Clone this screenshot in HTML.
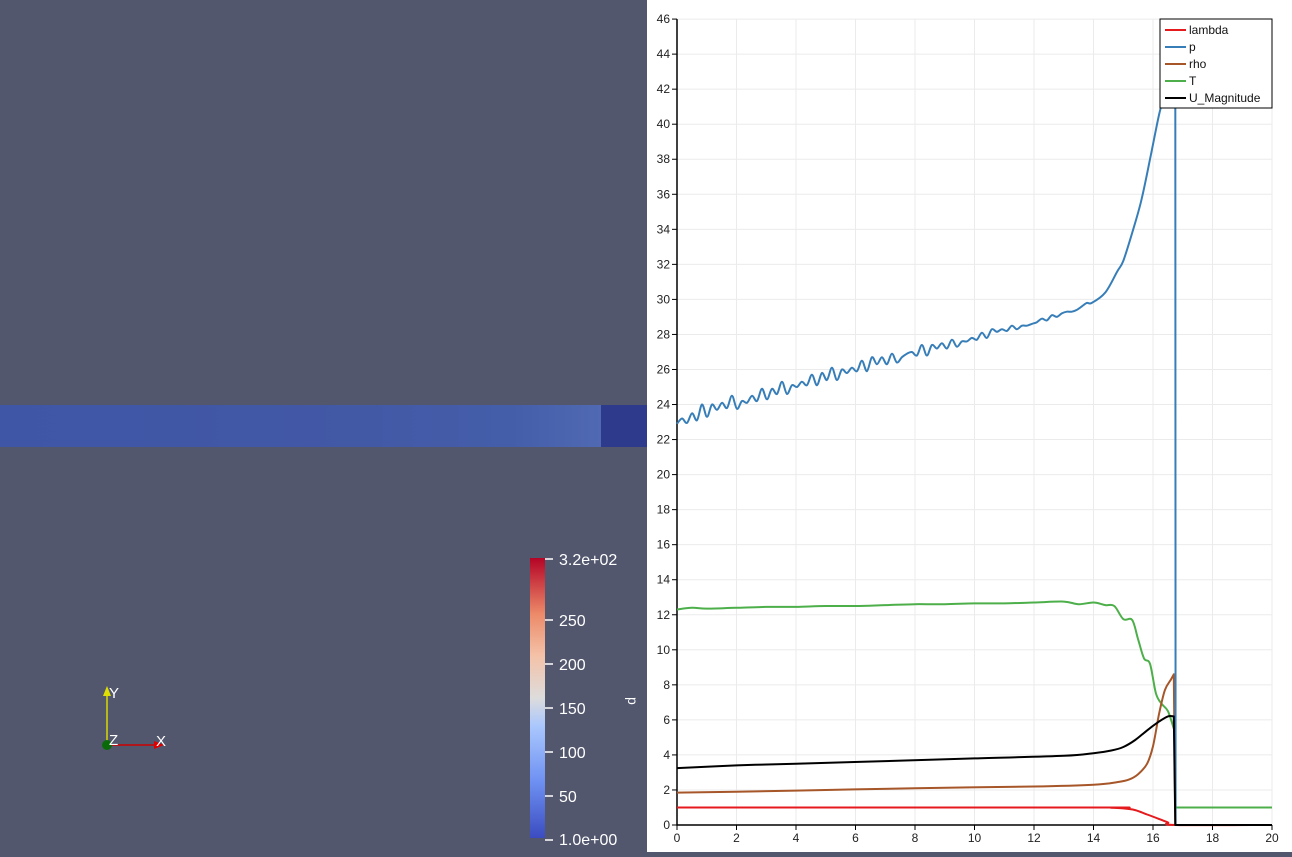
<!DOCTYPE html>
<html><head><meta charset="utf-8"><style>
html,body{margin:0;padding:0;width:1292px;height:852px;overflow:hidden;background:#52576e;font-family:"Liberation Sans",sans-serif}
#left{position:absolute;left:0;top:0;width:647px;height:852px;background:#52576e}
#right{position:absolute;left:647px;top:0;width:645px;height:852px;background:#fff}
</style></head><body>
<div id="left">
<svg width="647" height="852">
<defs>
<linearGradient id="strip" x1="0" x2="1" y1="0" y2="0"><stop offset="0" stop-color="#3f55a6"/><stop offset="0.6" stop-color="#4259a6"/><stop offset="0.85" stop-color="#455eaa"/><stop offset="1" stop-color="#5069b2"/></linearGradient>
<linearGradient id="cmap" x1="0" x2="0" y1="1" y2="0"><stop offset="0" stop-color="#3b4cc0"/><stop offset="0.2" stop-color="#6e90f2"/><stop offset="0.4" stop-color="#aac7fd"/><stop offset="0.5" stop-color="#dddcdc"/><stop offset="0.65" stop-color="#f4c2a8"/><stop offset="0.8" stop-color="#ec8a69"/><stop offset="1" stop-color="#b40426"/></linearGradient>
</defs>
<rect x="0" y="405" width="601" height="42" fill="url(#strip)"/>
<rect x="601" y="405" width="46" height="42" fill="#2e3a8c"/>
<g fill="#fff" font-size="16">
<rect x="530" y="558" width="15" height="280" fill="url(#cmap)"/>
<g stroke="#fff" stroke-width="1.5"><line x1="545" x2="553" y1="559" y2="559"/><line x1="545" x2="553" y1="620" y2="620"/><line x1="545" x2="553" y1="664" y2="664"/><line x1="545" x2="553" y1="708" y2="708"/><line x1="545" x2="553" y1="752" y2="752"/><line x1="545" x2="553" y1="796" y2="796"/><line x1="545" x2="553" y1="840" y2="840"/></g>
<text x="559" y="565">3.2e+02</text><text x="559" y="626">250</text><text x="559" y="670">200</text><text x="559" y="714">150</text><text x="559" y="758">100</text><text x="559" y="802">50</text><text x="559" y="845">1.0e+00</text>
<text x="0" y="0" font-size="14" transform="translate(628,697) rotate(90)">p</text>
</g>
<g font-size="15" fill="#fff">
<line x1="107" y1="745" x2="107" y2="692" stroke="#d8d800" stroke-width="1.5"/><polygon points="103,696 111,696 107,686" fill="#e0e000"/>
<line x1="107" y1="745" x2="158" y2="745" stroke="#c00" stroke-width="1.5"/><polygon points="154,741 154,749 164,745" fill="#d00"/>
<circle cx="107" cy="745" r="5" fill="#0a6a0a"/>
<text x="109" y="698">Y</text><text x="109" y="745">Z</text><text x="156" y="746">X</text>
</g>
</svg></div>
<div id="right">
<svg id="chart" width="645" height="852"></svg></div>
<script>
const pStep=0.168;
const pVals=[22.9,23.2,22.95,23.5,23.1,24.0,23.3,24.0,23.7,24.1,23.8,24.5,23.75,24.2,24.1,24.5,24.2,24.9,24.3,24.9,24.6,25.3,24.6,25.1,25.0,25.3,25.1,25.7,25.1,25.8,25.4,26.1,25.4,26.0,25.8,26.1,25.9,26.5,25.9,26.7,26.3,26.7,26.3,26.9,26.4,26.7,26.9,27.0,26.8,27.4,26.8,27.4,27.2,27.5,27.2,27.7,27.3,27.6,27.6,27.8,27.7,28.1,27.8,28.3,28.15,28.3,28.2,28.5,28.3,28.5,28.5,28.6,28.7,28.9,28.8,29.1,29.0,29.2,29.3,29.3,29.4,29.6,29.8,29.8];
const pTailX=[14.4,14.8,15.0,15.3,15.6,15.9,16.2,16.5,16.7,16.75,16.76,20];
const pTailY=[30.4,31.6,32.2,33.8,35.6,38.0,40.5,42.5,44.0,44.0,0,0];
const tX=[0,0.5,1,2,3,4,5,6,7,8,9,10,11,12,13,13.5,14,14.4,14.7,15,15.3,15.5,15.7,15.9,16.1,16.3,16.5,16.7,16.75,16.76,20];
const tY=[12.3,12.4,12.35,12.4,12.45,12.45,12.5,12.5,12.55,12.6,12.6,12.65,12.65,12.7,12.75,12.6,12.7,12.55,12.5,11.75,11.7,10.6,9.5,9.2,7.5,6.9,6.5,5.5,5.4,1.0,1.0];
const rhoX=[0,2,5,8,12,14,14.8,15.2,15.5,15.8,16.0,16.2,16.4,16.6,16.7,16.75,20];
const rhoY=[1.85,1.9,2.0,2.1,2.2,2.3,2.45,2.6,2.9,3.5,4.5,6.3,7.7,8.3,8.6,0,0];
const uX=[0,2,4,7,10,13,14,14.6,15,15.4,15.8,16.2,16.5,16.7,16.75,20];
const uY=[3.25,3.4,3.5,3.65,3.8,3.95,4.1,4.25,4.45,4.85,5.4,5.9,6.2,6.2,0,0];
const lX=[0,14,14.6,15,15.4,15.8,16.2,16.5,16.75,20];
const lY=[1,1,0.98,0.95,0.85,0.6,0.35,0.15,0,0];
const xTicks=[0,2,4,6,8,10,12,14,16,18,20];
const yTicks=[0,2,4,6,8,10,12,14,16,18,20,22,24,26,28,30,32,34,36,38,40,42,44,46];
const X=v=>30+v*29.75, Y=v=>825-v*17.52;
const svg=document.getElementById('chart'),NS='http://www.w3.org/2000/svg';
function mk(t,a,p){const e=document.createElementNS(NS,t);for(const k in a)e.setAttribute(k,a[k]);(p||svg).appendChild(e);return e;}
xTicks.forEach(t=>{const g=mk('line',{x1:X(t),x2:X(t),y1:Y(0),y2:Y(46),stroke:'#ebebeb'});


const tk=mk('line',{x1:X(t),x2:X(t),y1:Y(0),y2:Y(0)+5,stroke:'#000'});


const tx=mk('text',{x:X(t),y:Y(0)+17,'font-size':12,'text-anchor':'middle',fill:'#222'});tx.textContent=t;

});
yTicks.forEach(t=>{const g=mk('line',{x1:X(0),x2:X(20),y1:Y(t),y2:Y(t),stroke:'#ebebeb'});


const tk=mk('line',{x1:X(0)-5,x2:X(0),y1:Y(t),y2:Y(t),stroke:'#000'});


const tx=mk('text',{x:X(0)-7,y:Y(t)+4,'font-size':12,'text-anchor':'end',fill:'#222'});tx.textContent=t;

});
const ax=mk('path',{d:`M${X(0)} ${Y(46)}V${Y(0)}H${X(20)}`,stroke:'#000','stroke-width':1.5,fill:'none'});


function line(xs,ys,c,name){const P=xs.map((x,i)=>[X(x),Y(ys[i])]);
let d='M'+P[0][0].toFixed(1)+' '+P[0][1].toFixed(1);
for(let i=0;i<P.length-1;i++){let p0=P[Math.max(0,i-1)],p1=P[i],p2=P[i+1],p3=P[Math.min(P.length-1,i+2)];
if(Math.abs(p2[0]-p1[0])<2){d+='L'+p2[0].toFixed(1)+' '+p2[1].toFixed(1);continue;}
if(Math.abs(p1[0]-p0[0])<2)p0=p1;
if(Math.abs(p3[0]-p2[0])<2)p3=p2;
const c1=[p1[0]+(p2[0]-p0[0])/6,p1[1]+(p2[1]-p0[1])/6],c2=[p2[0]-(p3[0]-p1[0])/6,p2[1]-(p3[1]-p1[1])/6];
d+='C'+c1.map(v=>v.toFixed(1)).join(' ')+' '+c2.map(v=>v.toFixed(1)).join(' ')+' '+p2[0].toFixed(1)+' '+p2[1].toFixed(1);}
const e=mk('path',{d,stroke:c,'stroke-width':2,fill:'none','stroke-linejoin':'round'});

}
const pX=pVals.map((v,i)=>i*pStep);
const pFullX=pX.concat(pTailX), pFullY=pVals.concat(pTailY);
line(lX,lY,'#e41a1c','series-lambda');
line(tX,tY,'#4daf4a','series-T');
line(rhoX,rhoY,'#a65628','series-rho');
line(pFullX,pFullY,'#377eb8','series-p');
line(uX,uY,'#000','series-u-magnitude');
const lg=mk('g',{});


mk('rect',{x:513,y:19,width:112,height:89,fill:'#fff',stroke:'#000'},lg);
[['lambda','#e41a1c'],['p','#377eb8'],['rho','#a65628'],['T','#4daf4a'],['U_Magnitude','#000']].forEach((s,i)=>{
const y=30+i*17;const it=mk('g',{},lg);


mk('line',{x1:518,x2:539,y1:y,y2:y,stroke:s[1],'stroke-width':2},it);
const t=mk('text',{x:542,y:y+4,'font-size':12,fill:'#111'},it);t.textContent=s[0];});
</script>
</body></html>
